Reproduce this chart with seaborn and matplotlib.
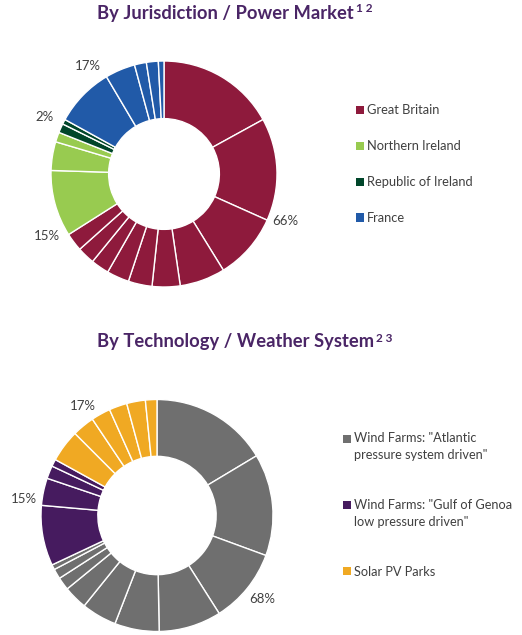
import matplotlib
matplotlib.use("Agg")
import matplotlib.pyplot as plt
from matplotlib.patches import Patch
import seaborn as sns

# ---- data ----
jur_groups = ["Great Britain", "Northern Ireland", "Republic of Ireland", "France"]
jur_values = [
    [17.0, 14.7, 9.5, 6.5, 4.0, 3.4, 3.2, 2.6, 2.5, 2.6],
    [9.5, 4.1, 1.4],
    [1.3, 0.7],
    [8.5, 4.3, 1.7, 1.7, 0.8],
]
jur_labels = ["66%", "15%", "2%", "17%"]

tech_groups = ['Wind Farms: "Atlantic\npressure system driven"',
               'Wind Farms: "Gulf of Genoa\nlow pressure driven"',
               "Solar PV Parks"]
tech_values = [
    [16.4, 14.2, 10.4, 8.7, 6.2, 4.9, 3.3, 1.8, 1.4, 0.7],
    [8.4, 3.8, 1.8, 1.0],
    [4.5, 3.1, 2.7, 2.5, 2.6, 1.6],
]
tech_labels = ["68%", "15%", "17%"]

title1, sup1 = "By Jurisdiction / Power Market", "1 2"
title2, sup2 = "By Technology / Weather System", "2 3"

# ---- style ----
sns.set_theme(style="white")
plt.rcParams["font.family"] = ["Lato", "DejaVu Sans"]

jur_colors = ["#8E1A3C", "#98CB50", "#00462A", "#215AA8"]
tech_colors = ["#6F6F6F", "#461B5F", "#F0A923"]
title_color = "#4A2566"
text_color = "#404040"

W, H = 522, 635
fig = plt.figure(figsize=(W / 100, H / 100), dpi=100)
fig.patch.set_facecolor("white")
renderer = fig.canvas.get_renderer()


def donut(cx, cy, r, values, colors, labels, label_pos, width):
    ax = fig.add_axes([(cx - r) / W, 1 - (cy + r) / H, 2 * r / W, 2 * r / H])
    flat_vals, flat_cols = [], []
    for vals, col in zip(values, colors):
        flat_vals += vals
        flat_cols += [col] * len(vals)
    ax.pie(flat_vals, colors=flat_cols, startangle=90, counterclock=False,
           radius=1.0, wedgeprops=dict(width=width, edgecolor="white", linewidth=1.0))
    ax.set_xlim(-1, 1)
    ax.set_ylim(-1, 1)
    ax.set_aspect("equal")
    ax.axis("off")
    for lab, (x, y) in zip(labels, label_pos):
        ax.text(x, y, lab, ha="center", va="center", fontsize=9.5, color=text_color)
    return ax


def title(x, y, main, sup):
    t = fig.text(x / W, 1 - y / H, main, ha="left", va="center", fontsize=13.2,
                 fontweight="bold", color=title_color)
    bb = t.get_window_extent(renderer)
    fig.text((bb.x1 + 2) / W, 1 - (y - 4) / H, sup, ha="left", va="center",
             fontsize=8.5, fontweight="bold", color=title_color)


# top donut
donut(164, 174, 113, jur_values, jur_colors, jur_labels,
      [(1.07, -0.42), (-1.04, -0.55), (-1.06, 0.50), (-0.67, 0.96)], 0.51)
# bottom donut
donut(157, 515.5, 116, tech_values, tech_colors, tech_labels,
      [(0.91, -0.72), (-1.15, 0.14), (-0.64, 0.94)], 0.49)

title(97, 13, title1, sup1)
title(97, 342, title2, sup2)

# legends
h1 = [Patch(facecolor=c, edgecolor="none") for c in jur_colors]
leg1 = fig.legend(h1, jur_groups, loc="upper left", bbox_to_anchor=(350 / W, 1 - 98 / H),
                  frameon=False, fontsize=9.3, labelcolor=text_color, handlelength=0.6,
                  handleheight=0.6, handletextpad=0.2, labelspacing=1.85, borderpad=0)

h2 = [Patch(facecolor=c, edgecolor="none") for c in tech_colors]
leg2 = fig.legend(h2, tech_groups, loc="upper left", bbox_to_anchor=(337 / W, 1 - 426 / H),
                  frameon=False, fontsize=9.2, labelcolor=text_color, handlelength=0.6,
                  handleheight=0.6, handletextpad=0.2, labelspacing=2.95, borderpad=0)
for t in leg2.get_texts():
    t.set_linespacing(1.5)
# align the square with the first line of multi-line labels
for patch, lab in zip(leg2.legend_handles, tech_groups):
    n_extra = lab.count("\n")
    if n_extra:
        patch.set_y(patch.get_y() + 6.3 * n_extra)

fig.savefig("out.png", dpi=100, facecolor="white")
